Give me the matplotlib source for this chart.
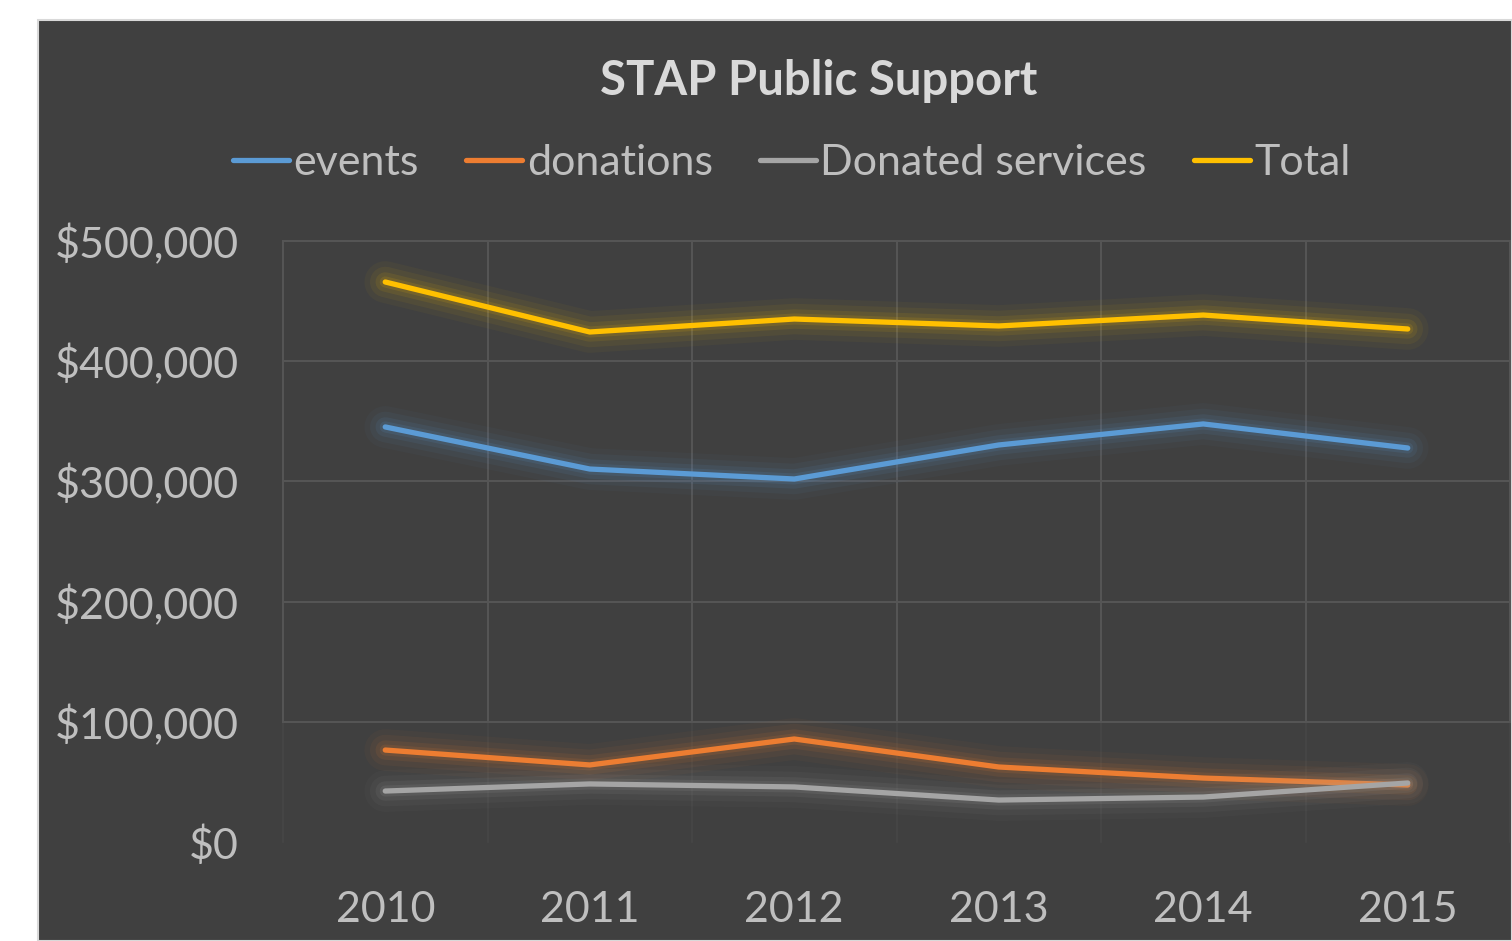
import matplotlib.pyplot as plt
import matplotlib.patheffects as pe
from matplotlib.patches import Rectangle
from matplotlib.ticker import FuncFormatter

years = ["2010", "2011", "2012", "2013", "2014", "2015"]
events = [345300, 310300, 302000, 330300, 347800, 327800]
donations = [76500, 64100, 85700, 62400, 53200, 47400]
donated_services = [42400, 48300, 45800, 34900, 37400, 49100]
total = [465900, 424300, 435100, 429300, 438400, 426800]

series = [
    ("events", events, "#5B9BD5"),
    ("donations", donations, "#ED7D31"),
    ("Donated services", donated_services, "#A5A5A5"),
    ("Total", total, "#FFC000"),
]

plt.rcParams['font.family'] = ['Lato', 'DejaVu Sans']

bg = "#404040"
txt = "#BFBFBF"
grid = "#565656"

fig = plt.figure(figsize=(15.12, 9.41), dpi=100)
fig.patch.set_facecolor("white")
# dark chart area with thin light border
fig.patches.append(Rectangle((38 / 1512, 0), 1 - 38 / 1512, 1 - 20 / 941,
                             transform=fig.transFigure, facecolor=bg,
                             edgecolor="#D9D9D9", linewidth=1.5, zorder=-10))

ax = fig.add_axes([283 / 1512, 1 - 842 / 941, (1510 - 283) / 1512, (842 - 241) / 941])
ax.set_facecolor(bg)

x = list(range(len(years)))
ax.set_xlim(-0.5, 5.5)
ax.set_ylim(0, 500000)

# grid: vertical category boundaries and horizontal value lines
for b in [i - 0.5 for i in range(len(years) + 1)]:
    ax.plot([b, b], [100000, 500000], color=grid, lw=1.4, zorder=1, clip_on=False)
    ax.plot([b, b], [0, 100000], color="#474747", lw=1.2, zorder=1, clip_on=False)
for v in [100000, 200000, 300000, 400000, 500000]:
    ax.axhline(v, color=grid, lw=1.4, zorder=1, clip_on=False)

for name, vals, col in series:
    ax.plot(x, vals, color=col, lw=3.8, label=name, solid_capstyle="round",
            solid_joinstyle="round", zorder=3,
            path_effects=[pe.Stroke(linewidth=30, foreground=col, alpha=0.04),
                          pe.Stroke(linewidth=22, foreground=col, alpha=0.06),
                          pe.Stroke(linewidth=14, foreground=col, alpha=0.09),
                          pe.Stroke(linewidth=8, foreground=col, alpha=0.12),
                          pe.Normal()])

for s in ax.spines.values():
    s.set_visible(False)

ax.set_xticks(x)
ax.set_xticklabels(years)
ax.set_yticks([0, 100000, 200000, 300000, 400000, 500000])
ax.yaxis.set_major_formatter(FuncFormatter(lambda v, p: "${:,.0f}".format(v)))
ax.tick_params(length=0, labelsize=31, colors=txt)
ax.tick_params(axis="y", pad=32)
ax.tick_params(axis="x", pad=35)

fig.text(819 / 1512, 1 - 81 / 941, "STAP Public Support", ha="center", va="center",
         fontsize=34, fontweight="bold", color="#D9D9D9")

leg = fig.legend(loc="center", bbox_to_anchor=(792 / 1512, 1 - 163 / 941), ncol=4,
                 frameon=False, fontsize=31, handlelength=1.3, handletextpad=0.1,
                 columnspacing=1.1, labelcolor=txt)
for h in leg.get_lines():
    h.set_linewidth(3.8)
    h.set_path_effects([])
    h.set_solid_capstyle("round")

fig.savefig("out.png", dpi=100, facecolor=fig.get_facecolor())
